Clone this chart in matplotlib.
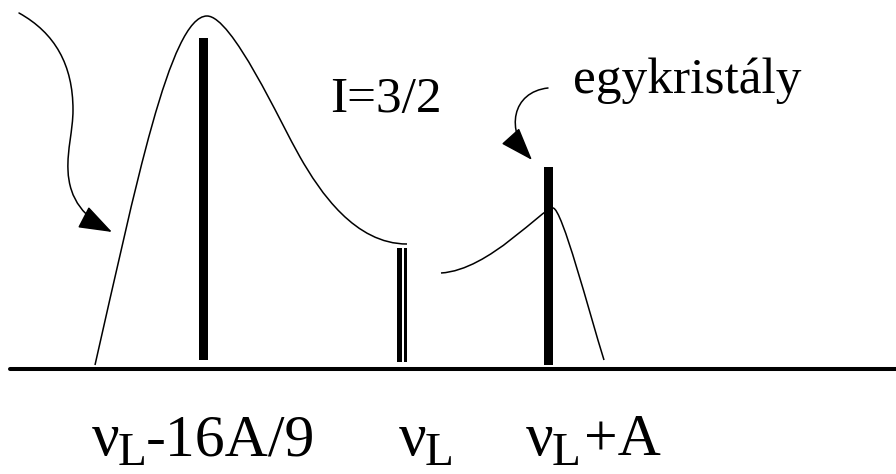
import matplotlib
matplotlib.use("Agg")
import matplotlib.pyplot as plt
from matplotlib.path import Path
from matplotlib.patches import PathPatch, FancyArrowPatch

# ---- data (pixel-space coordinates of the schematic) ----
bar_x = [203.5, 402.0, 548.0]
bar_top = [38, 248, 167]
bar_bottom = [360, 362, 365]
bar_width = [9, 10, 9]

# powder-like broad line (bezier control points)
broad_pts = [(95, 365), (135, 190), (170, 16), (207, 16),
             (232, 16), (280, 122), (300, 157),
             (320, 192), (355, 244), (407, 244)]
# single-crystal-like small line
small_pts = [(441, 273), (490, 270), (542, 208), (553, 208),
             (562, 208), (589, 312), (604, 360)]
# curved arrows
arrow1_pts = [(19, 13), (55, 33), (73, 65), (73, 110),
              (73, 130), (67, 150), (68, 170),
              (69, 200), (85, 218), (112, 232)]
arrow2_pts = [(548, 88), (512, 92), (505, 130), (532, 160)]

baseline_y = 369
baseline_x = [10, 896]

label_spin = "I=3/2"
label_crystal = "egykristály"
tick_main = ["ν", "ν", "ν"]
tick_sub = ["L", "L", "L"]
tick_rest = ["-16A/9", "", "+A"]
tick_x = [92, 399, 526]
tick_rest_x = [146, 0, 584]

serif = ["Liberation Serif", "DejaVu Serif"]

fig = plt.figure(figsize=(8.96, 4.74), dpi=100)
ax = fig.add_axes([0, 0, 1, 1])
ax.set_xlim(0, 896)
ax.set_ylim(474, 0)
ax.axis("off")


def bez_path(pts):
    codes = [Path.MOVETO] + [Path.CURVE4] * (len(pts) - 1)
    return Path(pts, codes)


# baseline
ax.plot(baseline_x, [baseline_y, baseline_y], color="black", lw=2.9,
        solid_capstyle="round")

# curves
ax.add_patch(PathPatch(bez_path(broad_pts), fill=False, lw=1.1, ec="black"))
ax.add_patch(PathPatch(bez_path(small_pts), fill=False, lw=1.1, ec="black"))

# bars
heights = [b - t for b, t in zip(bar_bottom, bar_top)]
ax.bar(bar_x, heights, bottom=bar_top, width=bar_width, color="black", zorder=3)
# middle bar is a double line (white gap)
ax.bar([bar_x[1] + 1.2], [heights[1]], bottom=[bar_top[1]], width=1.8,
       color="white", zorder=4)

# arrows
for pts in (arrow1_pts, arrow2_pts):
    arr = FancyArrowPatch(path=bez_path(pts),
                          arrowstyle="-|>,head_length=21,head_width=7.5",
                          lw=1.1, color="black", mutation_scale=1)
    ax.add_patch(arr)

# texts
ax.text(330, 112, label_spin, fontsize=37, family=serif, va="baseline", ha="left")
ax.text(573, 93, label_crystal, fontsize=37, family=serif, va="baseline", ha="left")

for x, m, s, r, rx in zip(tick_x, tick_main, tick_sub, tick_rest, tick_rest_x):
    ax.text(x, 455, m, fontsize=44, family=serif, va="baseline", ha="left")
    ax.text(x + 26, 465, s, fontsize=34, family=serif, va="baseline", ha="left")
    if r:
        ax.text(rx, 455, r, fontsize=43, family=serif, va="baseline", ha="left")

fig.savefig("out.png", dpi=100)
